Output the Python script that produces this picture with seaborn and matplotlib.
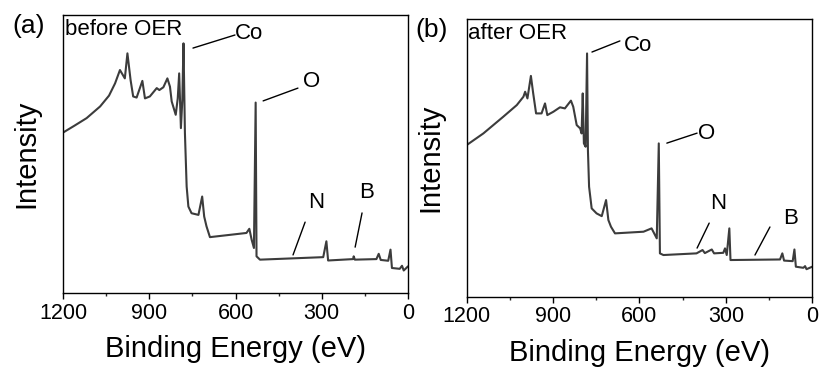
import numpy as np
import pandas as pd
import matplotlib
matplotlib.use("Agg")
import matplotlib.pyplot as plt
import seaborn as sns

# ---- data (binding energy eV, intensity a.u.) ----
be_before = [1200, 1160, 1118, 1071, 1040, 1019, 1002, 985, 976, 965, 956, 944, 924, 915, 898, 874,
             865, 851, 837, 828, 822, 808, 801, 796, 790, 785, 781, 776, 770, 764, 753, 729, 716,
             709, 701, 689, 562, 552, 544, 536, 530, 527, 515, 295, 284, 278, 191, 189, 185, 110,
             102, 95, 69, 61, 56, 29, 21, 15, 0]
int_before = [57.7, 60.2, 62.9, 67.1, 71.0, 75.4, 80.2, 77.2, 86.2, 76.6, 70.7, 70.3, 76.3, 70.0,
              70.7, 73.7, 73.0, 74.0, 77.2, 74.2, 68.9, 64.1, 70.0, 79.0, 59.3, 69.5, 89.8, 57.5,
              38.3, 31.1, 28.7, 28.1, 34.7, 27.5, 24.0, 20.1, 21.6, 23.1, 19.2, 16.2, 68.5, 13.2,
              12.0, 12.9, 18.6, 11.7, 12.2, 13.2, 12.0, 12.2, 14.1, 11.9, 11.6, 15.6, 9.0, 8.7,
              9.8, 8.1, 9.6]

be_after = [1200, 1142, 1073, 1026, 1003, 997, 989, 977, 969, 959, 940, 928, 920, 899, 876, 859,
            838, 830, 818, 806, 801, 797, 793, 787, 782, 779, 775, 766, 749, 731, 716, 708, 699,
            685, 586, 558, 549, 540, 533, 529, 517, 402, 381, 373, 349, 341, 309, 303, 297, 288,
            284, 112, 104, 98, 68, 62, 57, 31, 25, 20, 0]
int_after = [54.6, 58.8, 64.8, 69.0, 72.0, 73.8, 71.4, 79.5, 73.2, 66.0, 66.0, 69.6, 65.4, 66.6,
             68.2, 67.8, 70.6, 68.4, 61.8, 60.6, 58.8, 73.2, 55.2, 54.0, 87.6, 52.8, 39.6, 31.8,
             30.0, 29.0, 34.8, 27.6, 25.2, 22.8, 23.4, 24.6, 22.8, 21.0, 55.2, 15.6, 15.0, 15.6,
             16.8, 15.7, 17.0, 15.6, 15.8, 17.4, 15.0, 24.6, 13.2, 13.4, 15.6, 13.0, 12.8, 17.0,
             10.8, 10.4, 11.0, 9.9, 10.8]

panel_labels = ["(a)", "(b)"]
state_labels = ["before OER", "after OER"]
xticks = [1200, 900, 600, 300, 0]

# annotations: (label, line start (eV, I), line end (eV, I), text pos (eV, I))
ann_before = [("Co", (748, 88.1), (602, 92.8), (602, 93.5)),
              ("O", (504, 69.1), (383, 73.7), (365, 75.9)),
              ("N", (400, 13.7), (358, 25.5), (320, 32.7)),
              ("B", (184, 16.5), (160, 28.8), (143, 36.0))]
ann_after = [("Co", (765, 88.1), (668, 92.1), (655, 90.6)),
             ("O", (505, 55.3), (400, 58.9), (398, 58.6)),
             ("N", (400, 17.5), (358, 26.5), (327, 33.4)),
             ("B", (199, 15.0), (147, 25.1), (74, 28.0))]

sns.set_theme(style="ticks")
plt.rcParams['font.family'] = ['Liberation Sans', 'DejaVu Sans']

fig = plt.figure(figsize=(8.27, 3.71), dpi=100)
axes = [fig.add_axes([0.0762, 0.2102, 0.4172, 0.7494]),
        fig.add_axes([0.5643, 0.2003, 0.4179, 0.7485])]

datasets = [(be_before, int_before, ann_before), (be_after, int_after, ann_after)]
line_color = "#3c3c3c"

for i, (ax, (be, inten, anns)) in enumerate(zip(axes, datasets)):
    df = pd.DataFrame({"BE": be, "I": inten})
    sns.lineplot(data=df, x="BE", y="I", ax=ax, color=line_color, linewidth=1.5,
                 sort=False, estimator=None)
    ax.set_xlim(1200, 0)
    ax.set_ylim(0, 100)
    ax.set_xticks(xticks)
    ax.set_xticks([1050, 750, 450, 150], minor=True)
    ax.set_yticks([])
    ax.tick_params(axis='x', which='major', direction='out', length=4, width=1,
                   labelsize=15.5, pad=3, colors='black')
    ax.tick_params(axis='x', which='minor', direction='out', length=2.5, width=1)
    for s in ax.spines.values():
        s.set_visible(True)
        s.set_color('black')
        s.set_linewidth(1.0)
    ax.set_xlabel("Binding Energy (eV)", fontsize=21, labelpad=8, color='black')
    ax.set_ylabel("Intensity", fontsize=21, labelpad=16, color='black')
    ax.text(0.005, 0.985, state_labels[i], transform=ax.transAxes, ha='left', va='top',
            fontsize=16, color='black')
    ax.text(-0.148, 1.005, panel_labels[i], transform=ax.transAxes, ha='left', va='top',
            fontsize=19, color='black')
    for lab, p0, p1, pt in anns:
        ax.plot([p0[0], p1[0]], [p0[1], p1[1]], color='black', linewidth=1.0)
        ax.text(pt[0], pt[1], lab, ha='left' if lab in ("Co", "O") else 'center',
                va='center', fontsize=16, color='black')

fig.savefig("out.png", dpi=100)
